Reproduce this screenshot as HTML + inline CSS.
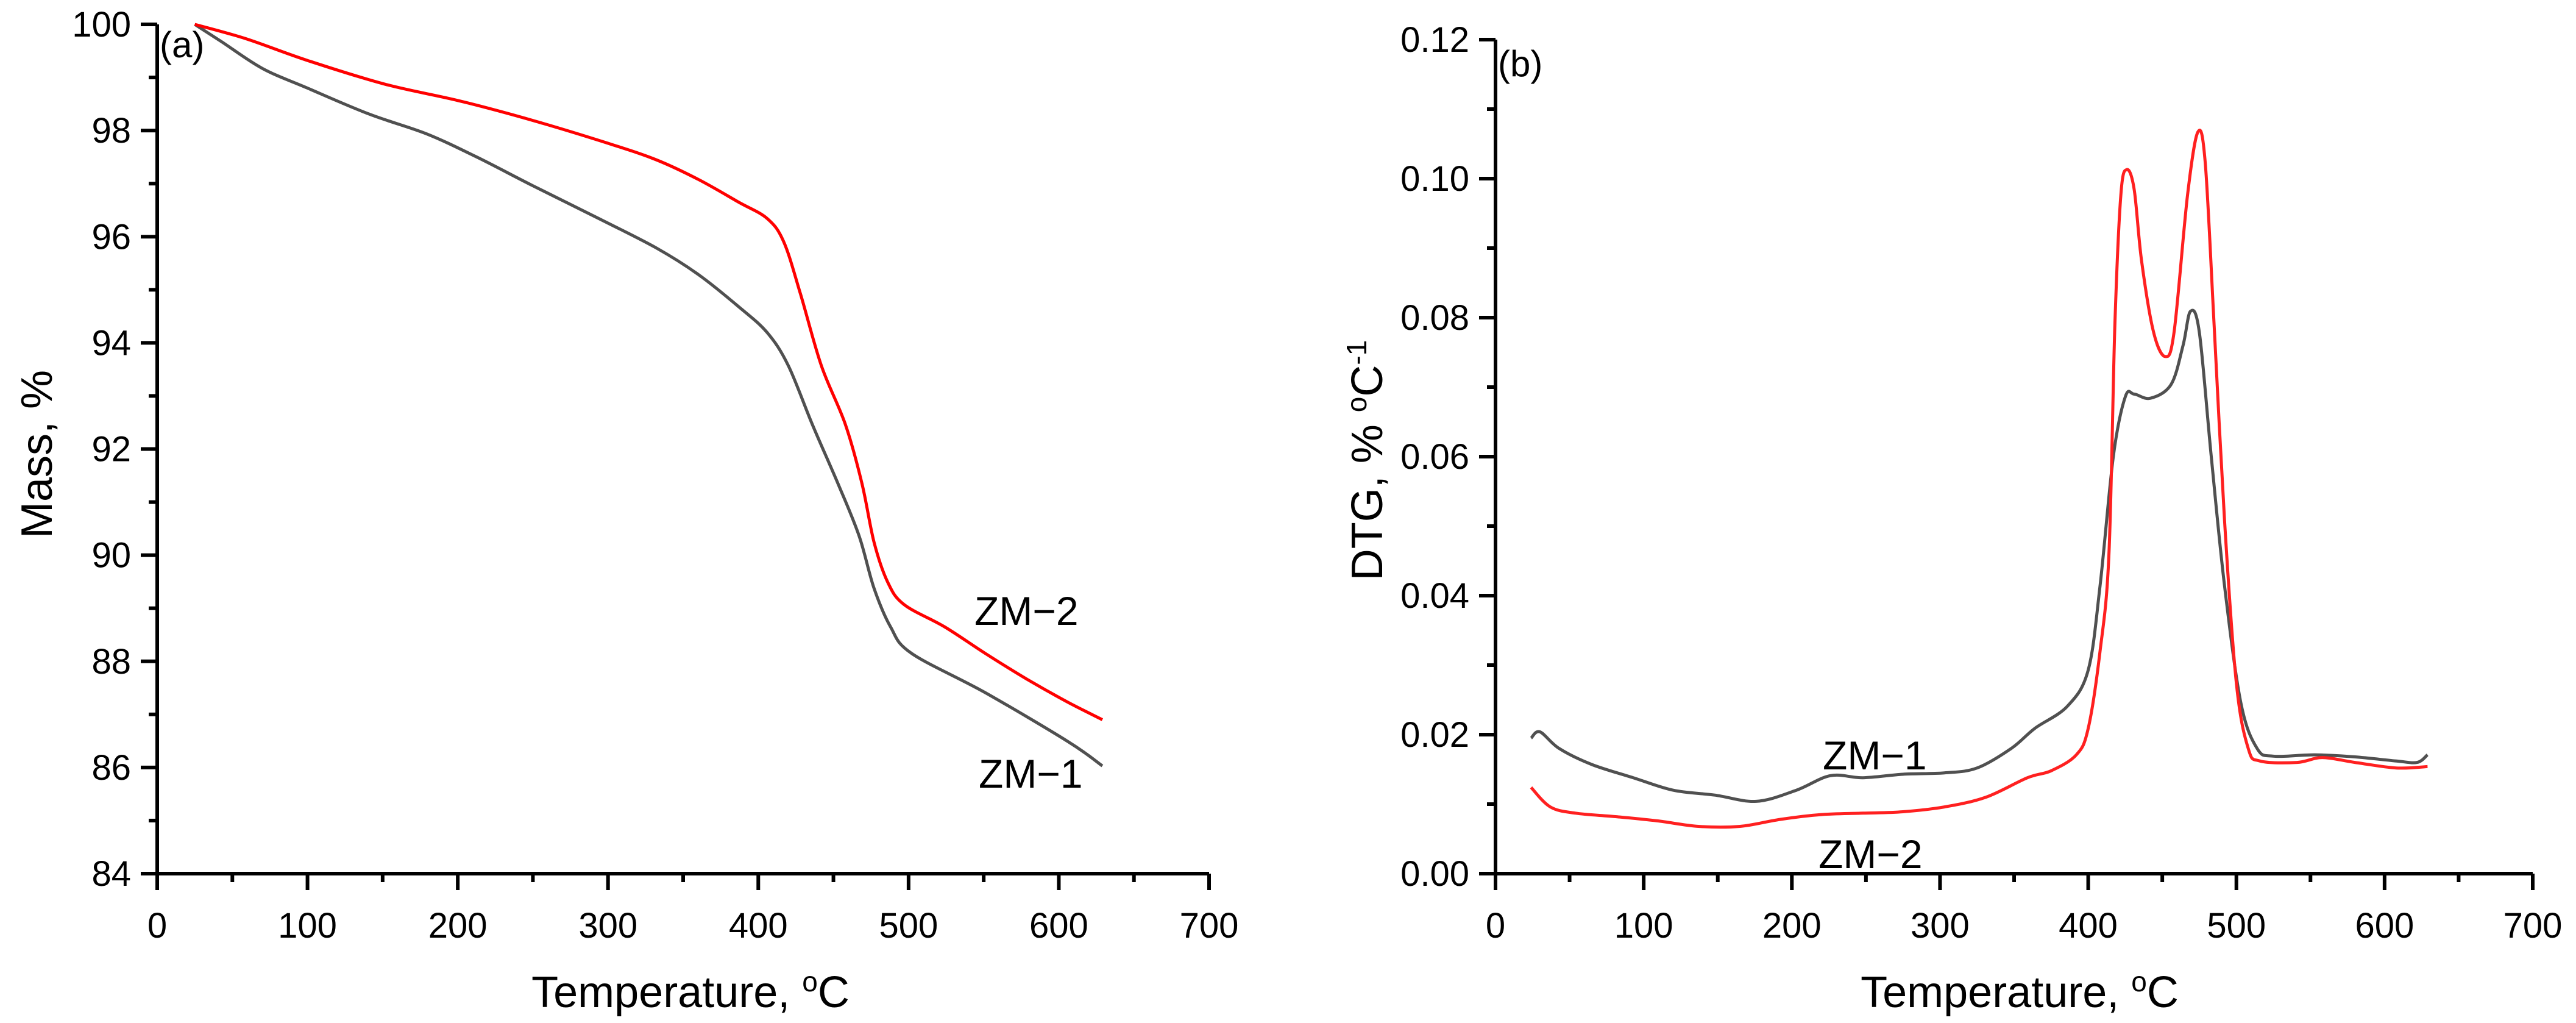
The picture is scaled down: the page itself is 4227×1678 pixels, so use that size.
<!DOCTYPE html>
<html><head><meta charset="utf-8"><style>
html,body{margin:0;padding:0;background:#fff}
body{position:relative}
svg{display:block}
text{font-family:"Liberation Sans",Arial,sans-serif;fill:#000}
</style></head><body>
<svg id="c" width="4227" height="1678" viewBox="0 0 4227 1678" xmlns="http://www.w3.org/2000/svg">
<g id="pa"></g>
<g id="pb"></g>
</svg>
<script>
// Panel (a) TGA data
const tgaT2=[25,59,100,152,201,250,300,332,360,387,406,417,428,442,458,469,477,486,497,524,551,579,606,629];
const tgaM2=[100,99.73,99.32,98.87,98.56,98.19,97.76,97.45,97.08,96.65,96.34,95.9,94.93,93.57,92.46,91.35,90.25,89.5,89.07,88.65,88.15,87.66,87.23,86.9];
const tgaT1=[25,43,70,100,141,179,212,250,294,332,360,387,406,420,436,453,467,477,488,502,551,606,629];
const tgaM1=[100,99.67,99.17,98.8,98.31,97.94,97.51,96.96,96.34,95.79,95.29,94.68,94.19,93.57,92.46,91.35,90.37,89.38,88.65,88.15,87.41,86.49,86.03];
// Panel (b) DTG data
const dtgT2=[24,37,54,81,109,137,165,192,220,248,275,303,331,359,375,392,400,408,414,418,422,426,431,436,444,452,458,467,474,479,485,492,500,508,516,541,558,580,608,629];
const dtgV2=[0.0124,0.0096,0.0087,0.0082,0.0076,0.0068,0.0068,0.0078,0.0085,0.0087,0.0089,0.0096,0.011,0.0138,0.0148,0.0171,0.0209,0.032,0.046,0.0789,0.0976,0.1013,0.0985,0.0882,0.078,0.0744,0.078,0.0976,0.1067,0.1022,0.0789,0.0508,0.0274,0.018,0.0162,0.016,0.0167,0.016,0.0152,0.0154];
const dtgT1=[24,30,43,65,93,120,148,176,203,226,248,275,303,325,348,364,386,400,408,417,425,431,442,456,464,469,475,483,492,503,514,525,553,580,608,622,629];
const dtgV1=[0.0195,0.0204,0.018,0.0157,0.0138,0.012,0.0113,0.0104,0.012,0.0141,0.0138,0.0143,0.0145,0.0152,0.018,0.0209,0.0241,0.0293,0.0414,0.0601,0.0686,0.069,0.0684,0.0704,0.076,0.0809,0.0779,0.0601,0.0414,0.0246,0.018,0.0169,0.0171,0.0168,0.0162,0.016,0.0171];
const xTicks=["0","100","200","300","400","500","600","700"];
const yTicksA=["84","86","88","90","92","94","96","98","100"];
const yTicksB=["0.00","0.02","0.04","0.06","0.08","0.10","0.12"];

const NS="http://www.w3.org/2000/svg";
function mk(parent,tag,attrs,txt){const e=document.createElementNS(NS,tag);for(const k in attrs)e.setAttribute(k,attrs[k]);if(txt!==undefined)e.textContent=txt;parent.appendChild(e);return e;}

function smoothPath(pts){
  let d='M'+pts[0][0].toFixed(1)+' '+pts[0][1].toFixed(1);
  for(let i=0;i<pts.length-1;i++){
    const p0=pts[Math.max(0,i-1)],p1=pts[i],p2=pts[i+1],p3=pts[Math.min(pts.length-1,i+2)];
    const c1x=p1[0]+(p2[0]-p0[0])/6,c1y=p1[1]+(p2[1]-p0[1])/6;
    const c2x=p2[0]-(p3[0]-p1[0])/6,c2y=p2[1]-(p3[1]-p1[1])/6;
    d+=` C${c1x.toFixed(1)} ${c1y.toFixed(1)} ${c2x.toFixed(1)} ${c2y.toFixed(1)} ${p2[0].toFixed(1)} ${p2[1].toFixed(1)}`;
  }
  return d;
}

function panel(g,cfg){
  const sx=v=>cfg.x0+(v-0)/700*(cfg.x1-cfg.x0);
  const sy=v=>cfg.y0-(v-cfg.ymin)/(cfg.ymax-cfg.ymin)*(cfg.y0-cfg.y1);
  const ax=mk(g,'path',{d:`M${cfg.x0} ${cfg.y1} V${cfg.y0} H${cfg.x1}`,stroke:'#000','stroke-width':6,fill:'none'});
  
  
  for(let v=0;v<=700;v+=50){
    const major=v%100===0;
    const t=mk(g,'line',{x1:sx(v),x2:sx(v),y1:cfg.y0,y2:cfg.y0+(major?27:14),stroke:'#000','stroke-width':6});
    
    
  }
  xTicks.forEach(s=>{
    const v=+s;
    const t=mk(g,'text',{x:sx(v),y:cfg.y0+105,'font-size':58,'text-anchor':'middle'},s);
    
    
  });
  const n=cfg.yTicks.length;
  const step=(cfg.ymax-cfg.ymin)/(n-1);
  for(let i=0;i<2*(n-1)+1;i++){
    const v=cfg.ymin+i*step/2;
    const major=i%2===0;
    const t=mk(g,'line',{x1:cfg.x0,x2:cfg.x0-(major?27:14),y1:sy(v),y2:sy(v),stroke:'#000','stroke-width':6});
    
    
  }
  cfg.yTicks.forEach(s=>{
    const v=+s;
    const t=mk(g,'text',{x:cfg.x0-43,y:sy(v)+20,'font-size':58,'text-anchor':'end'},s);
    
    
  });
  cfg.series.forEach(se=>{
    const pts=se.t.map((t,i)=>[sx(t),sy(se.v[i])]);
    const p=mk(g,'path',{d:smoothPath(pts),stroke:se.c,'stroke-width':5,fill:'none','stroke-linejoin':'round'});
    
    
  });
}

panel(document.getElementById('pa'),{x0:258,x1:1984,y0:1433,y1:40,ymin:84,ymax:100,yTicks:yTicksA,
  series:[{t:tgaT1,v:tgaM1,c:'#505050',name:'zm1-mass-line'},{t:tgaT2,v:tgaM2,c:'#ff0000',name:'zm2-mass-line'}]});
panel(document.getElementById('pb'),{x0:2454,x1:4156,y0:1433,y1:65,ymin:0,ymax:0.12,yTicks:yTicksB,
  series:[{t:dtgT1,v:dtgV1,c:'#505050',name:'zm1-dtg-line'},{t:dtgT2,v:dtgV2,c:'#ff2020',name:'zm2-dtg-line'}]});
</script>
<svg width="4227" height="1678" style="position:absolute;left:0;top:0" xmlns="http://www.w3.org/2000/svg">
<text x="262" y="94" font-size="60">(a)</text>
<text x="2458" y="125" font-size="60">(b)</text>
<text x="1599" y="1025" font-size="66">ZM−2</text>
<text x="1606" y="1292" font-size="66">ZM−1</text>
<text x="2991" y="1262" font-size="66">ZM−1</text>
<text x="2984" y="1424" font-size="66">ZM−2</text>
<text x="1133" y="1652" font-size="72" text-anchor="middle">Temperature, <tspan baseline-shift="super" font-size="46">o</tspan>C</text>
<text x="3314" y="1652" font-size="72" text-anchor="middle">Temperature, <tspan baseline-shift="super" font-size="46">o</tspan>C</text>
<text transform="translate(85,745) rotate(-90)" font-size="72" text-anchor="middle">Mass, %</text>
<text transform="translate(2268,755) rotate(-90)" font-size="72" text-anchor="middle">DTG, % <tspan baseline-shift="super" font-size="46">o</tspan>C<tspan baseline-shift="super" font-size="46">-1</tspan></text>
</svg>
</body></html>
